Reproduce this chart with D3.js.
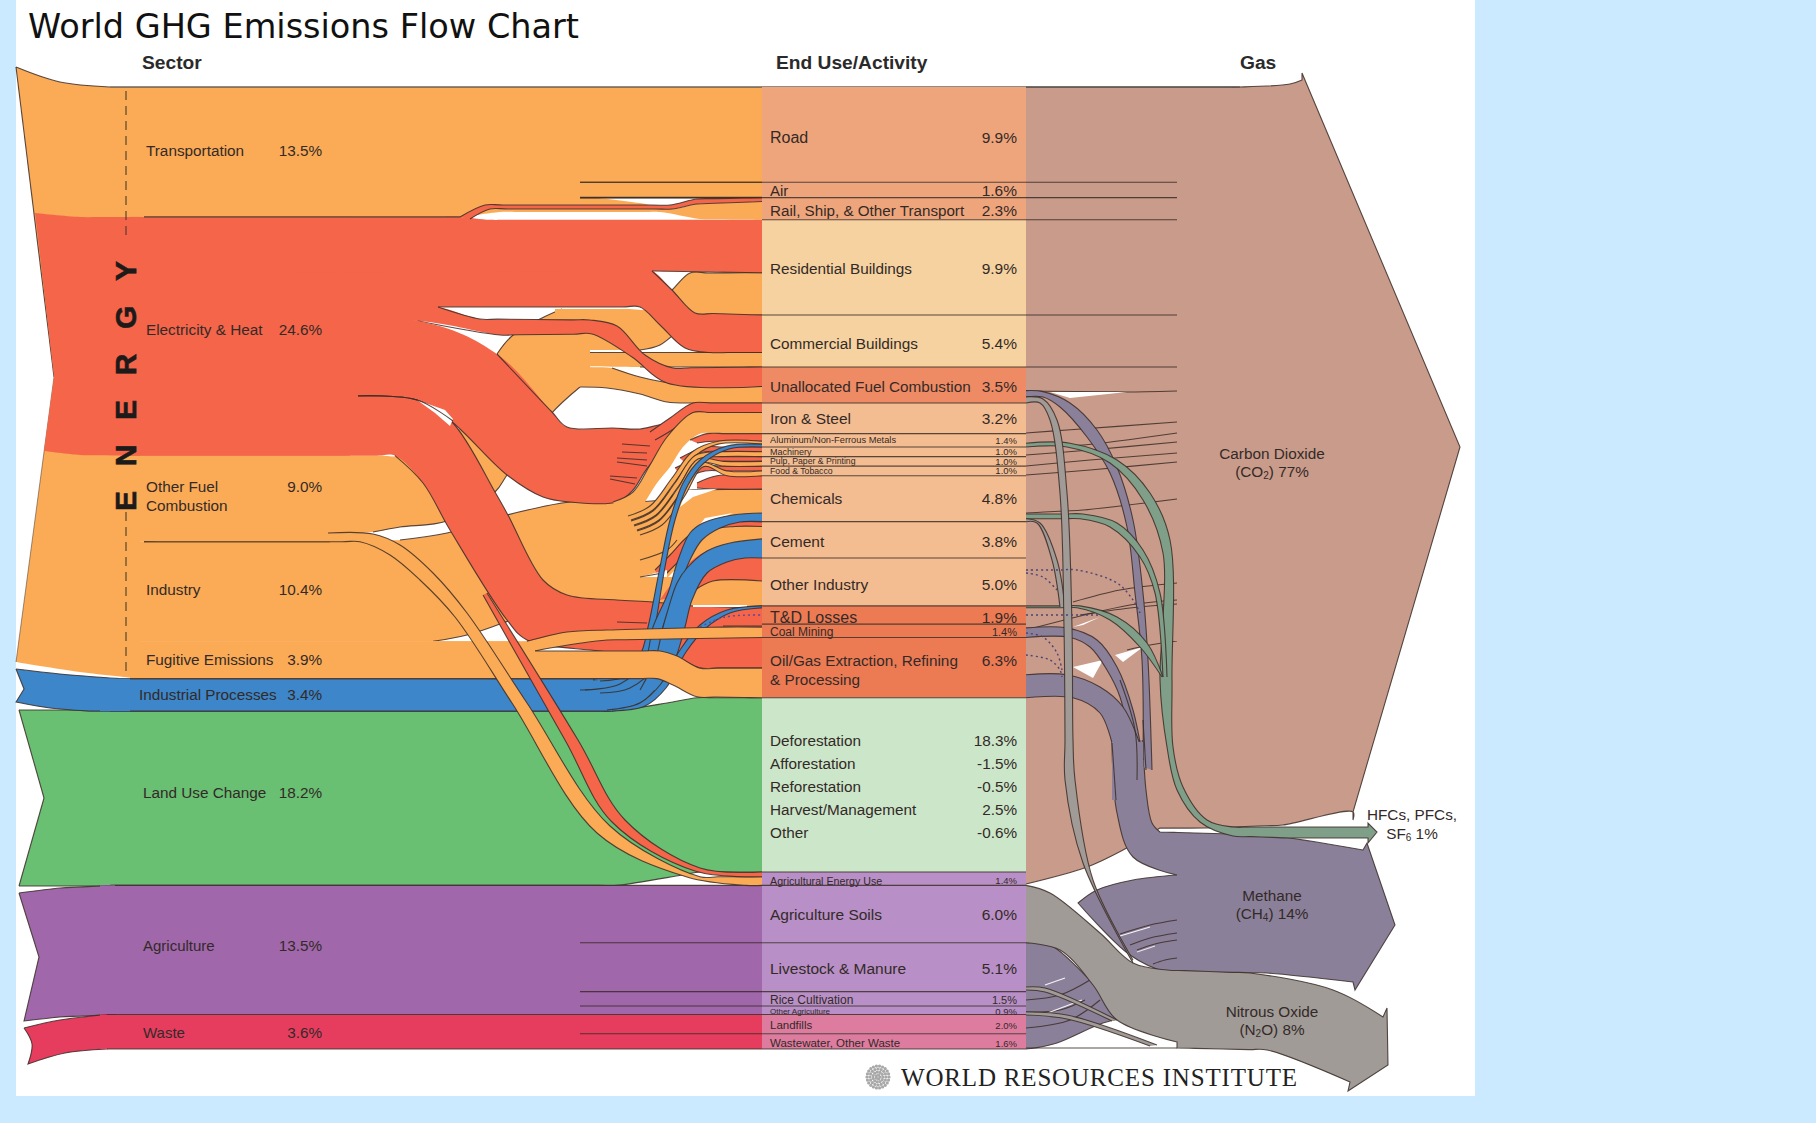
<!DOCTYPE html>
<html><head><meta charset="utf-8">
<style>html,body{margin:0;padding:0;background:#cbeaff}svg{display:block}text{font-family:"Liberation Sans",Arial,sans-serif}</style>
<script src="https://cdn.jsdelivr.net/npm/d3@7/dist/d3.min.js"></script></head><body>
<script>
// ---------- DATA (percent of world GHG emissions) ----------
const sectors = ["Transportation","Electricity & Heat","Other Fuel Combustion","Industry","Fugitive Emissions","Industrial Processes","Land Use Change","Agriculture","Waste"];
const sectorValues = [13.5,24.6,9.0,10.4,3.9,3.4,18.2,13.5,3.6];
const sectorLabels = ["13.5%","24.6%","9.0%","10.4%","3.9%","3.4%","18.2%","13.5%","3.6%"];
const endUses = ["Road","Air","Rail, Ship, & Other Transport","Residential Buildings","Commercial Buildings","Unallocated Fuel Combustion","Iron & Steel","Aluminum/Non-Ferrous Metals","Machinery","Pulp, Paper & Printing","Food & Tobacco","Chemicals","Cement","Other Industry","T&D Losses","Coal Mining","Oil/Gas Extraction, Refining","Land Use Change","Agricultural Energy Use","Agriculture Soils","Livestock & Manure","Rice Cultivation","Other Agriculture","Landfills","Wastewater, Other Waste"];
const endUseValues = [9.9,1.6,2.3,9.9,5.4,3.5,3.2,1.4,1.0,1.0,1.0,4.8,3.8,5.0,1.9,1.4,6.3,18.2,1.4,6.0,5.1,1.5,0.9,2.0,1.6];
const endUseLabels = ["9.9%","1.6%","2.3%","9.9%","5.4%","3.5%","3.2%","1.4%","1.0%","1.0%","1.0%","4.8%","3.8%","5.0%","1.9%","1.4%","6.3%","","1.4%","6.0%","5.1%","1.5%","0.9%","2.0%","1.6%"];
const landUseItems = ["Deforestation","Afforestation","Reforestation","Harvest/Management","Other"];
const landUseLabels = ["18.3%","-1.5%","-0.5%","2.5%","-0.6%"];
// flow: key, sector index, end-use index, value (listed top-to-bottom inside each end use)
const flowKeys = ["road","air","railE","railT","resE","resO","comE","comO","unE","unO","ironE","ironI","alE","alI","alB","maE","maI","puE","puI","foE","foI","chE","chI","chB","ceE","ceI","ceB","otE","otI","tdB","tdE","coal","oiE","oiO","oiF","luc","agE","agO","soil","live","rice","oag","land","wast"];
const flowSector = [0,0,1,0,1,2,1,2,1,2,1,3,1,3,5,1,3,1,3,1,3,1,3,5,1,3,5,1,3,5,1,4,1,2,4,6,1,2,7,7,7,7,8,8];
const flowEnd =    [0,1,2,2,3,3,4,4,5,5,6,6,7,7,7,8,8,9,9,10,10,11,11,11,12,12,12,13,13,14,14,15,16,16,16,17,18,18,19,20,21,22,23,24];
const flowValues = [9.9,1.6,0.4,1.9,5.5,4.4,3.9,1.5,1.9,1.6,1.0,2.2,0.8,0.3,0.3,0.5,0.5,0.5,0.5,0.5,0.5,1.4,2.5,0.9,0.5,1.3,2.0,2.4,2.6,0.2,1.7,1.4,3.2,0.6,2.5,18.2,0.5,0.9,6.0,5.1,1.5,0.9,2.0,1.6];
const gases = ["Carbon Dioxide","Methane","Nitrous Oxide","HFCs, PFCs, SF6"];
const gasValues = [77,14,8,1];
// non-CO2 gas flows out of the end-use column
const gasKeys = ["unCH4","unN2O","alHFC","chHFC","chN2O","tdHFC","coCH4","oiCH4","soN2O"];
const gasEnd = [5,5,7,11,11,14,15,16,19];
const gasFlowValues = [0.6,0.6,0.4,0.5,0.3,0.2,1.0,2.4,6.0];
const gasFromTop = [0,0,0,0,0,1,0,0,0];

// ---------- SCALES & COLOURS ----------
const W=1816,H=1123,XL=130,XP0=762,XP1=1026;
const sy=d3.scaleLinear().domain([0,29.1,32.6,100.1]).range([87,367,403,1049]);
const C={o:"#fbab56",r:"#f5654a",b:"#3c86c9",g:"#69bf72",p:"#a067aa",w:"#e63d5f",co2:"#c99b8a",ch4:"#8b8099",n2o:"#a19b97",hfc:"#7f9f89",ink:"#3b2d28"};
const panelFill=i=>i<3?"#efa57b":i<5?"#f5d2a0":i==5?"#ee8b64":i<14?"#f3bd91":i<17?"#ec7b54":i==17?"#cce6c9":i<23?"#b88fc6":"#dd7c9f";

// stacks
const endTop=[],secTop=[];let c=0;endUseValues.forEach((v,i)=>{endTop[i]=c;c+=v});c=0;sectorValues.forEach((v,i)=>{secTop[i]=c;c+=v});
const endOff=endUses.map(()=>0),secOff=sectors.map(()=>0),F={};
flowKeys.forEach((k,i)=>{const e=flowEnd[i],s=flowSector[i],v=flowValues[i];
  F[k]={r0:sy(endTop[e]+endOff[e]),r1:sy(endTop[e]+endOff[e]+v),l0:sy(secTop[s]+secOff[s]),l1:sy(secTop[s]+secOff[s]+v)};
  endOff[e]+=v;secOff[s]+=v;});
const G={};const gasBelow=endUses.map(()=>0);
gasKeys.forEach((k,i)=>{const e=gasEnd[i];
  G[k]=gasFromTop[i]?{t:sy(endTop[e]),b:sy(endTop[e]+gasFlowValues[i])}:null;});
[...gasKeys.keys()].reverse().forEach(i=>{if(gasFromTop[i])return;const e=gasEnd[i],bot=endTop[e]+endUseValues[e]-gasBelow[e];
  G[gasKeys[i]]={t:sy(bot-gasFlowValues[i]),b:sy(bot)};gasBelow[e]+=gasFlowValues[i];});
const eT=i=>sy(endTop[i]),eB=i=>sy(endTop[i]+endUseValues[i]);
const sT=i=>sy(secTop[i]),sB=i=>sy(secTop[i]+sectorValues[i]);
const rt=k=>[XP0,F[k].r0],rb=k=>[XP0,F[k].r1],lt=k=>[XL,F[k].l0],lb=k=>[XL,F[k].l1];

// ---------- DRAW HELPERS ----------
const svg=d3.select("body").append("svg").attr("width",W).attr("height",H);
svg.append("rect").attr("width",W).attr("height",H).attr("fill","#cbeaff");
svg.append("rect").attr("x",16).attr("y",0).attr("width",1459).attr("height",1096).attr("fill","#fff");
const g=svg.append("g");
const rawLine=d3.line().curve(d3.curveCatmullRom.alpha(0.5));
// keep long flat runs flat: add guide points near their ends so the spline does not overshoot
function dens(p){const o=[];p.forEach((q,i)=>{o.push(q);const n=p[i+1];if(n&&Math.abs(n[1]-q[1])<=3&&Math.abs(n[0]-q[0])>50){const s=Math.sign(n[0]-q[0])*18,k=18/Math.abs(n[0]-q[0]);o.push([q[0]+s,q[1]+(n[1]-q[1])*k]);o.push([n[0]-s,n[1]-(n[1]-q[1])*k]);}});return o;}
const line=p=>p.length>2?rawLine(dens(p)):"M"+p.join("L");
const EDGE={stroke:C.ink,w:1.1,op:.85};
function strokeLine(pts,w,dash,col,op){const p=g.append("path").attr("d",line(pts)).attr("fill","none").attr("stroke",col||EDGE.stroke).attr("stroke-width",w||EDGE.w).attr("stroke-opacity",op||EDGE.op);if(dash)p.attr("stroke-dasharray",dash);return p;}
// ribbon: fill between two edges, outline each edge from a chosen x onward (1e9 = no outline)
function ribbon(fill,top,bot,st=-1,sb=-1){
  g.append("path").attr("d",line(top)+"L"+line(bot.slice().reverse()).slice(1)+"Z").attr("fill",fill);
  const a=top.filter(p=>p[0]>=st),b=bot.filter(p=>p[0]>=sb);
  if(a.length>1)strokeLine(a);if(b.length>1)strokeLine(b);
}
function shape(fill,segs,stroke=true){
  const d=segs.map((s,i)=>{const l=line(s);return i?"L"+l.slice(1):l}).join("");
  g.append("path").attr("d",d+"Z").attr("fill",fill);
  if(stroke)g.append("path").attr("d",d).attr("fill","none").attr("stroke",EDGE.stroke).attr("stroke-width",EDGE.w).attr("stroke-opacity",EDGE.op);
}
const gap=pts=>g.append("path").attr("d","M"+pts.join("L")+"Z").attr("fill","#fff");
const rect=(x,y,x1,y1,f)=>g.append("rect").attr("x",x).attr("y",y).attr("width",x1-x).attr("height",y1-y).attr("fill",f);

// ---------- CO2 BODY ----------
shape(C.co2,[[[XP1,87],[1240,87],[1290,84],[1302,80]],[[1302,80],[1302,73]],[[1302,73],[1460,447]],[[1460,447],[1353,812]],[[1353,812],[1353,820]],[[1353,820],[1353,812],[1283,825],[1207,828],[1160,828]],[[1160,828],[1123,850],[1087,867],[XP1,884]]]);

// ---------- LOWER SECTORS ----------
// Land use change
ribbon(C.g,[[100,sT(6)],[610,sT(6)],[667,703],[697,eT(17)],rt("luc")],[[100,sB(6)],[617,sB(6)],[682,875],[700,eB(17)],rb("luc")]);
shape(C.g,[[[19,710],[110,710]],[[110,710],[110,886]],[[110,886],[19,886]],[[19,886],[44,798]],[[44,798],[19,710]]],false);
strokeLine([[19,886],[44,798]]);strokeLine([[44,798],[19,710]]);strokeLine([[19,710],[110,710]]);strokeLine([[19,886],[110,886]]);
// Agriculture
shape(C.p,[[[19,893],[60,888],[115,sT(7)]],[[115,sT(7)],[115,sB(7)]],[[115,sB(7)],[60,1017],[24,1021]],[[24,1021],[39,957]],[[39,957],[19,893]]],true);
rect(100,sT(7),XP0,sB(7),C.p);
strokeLine([[115,sT(7)],[XP0,sT(7)]]);
// Waste
shape(C.w,[[[24,1028],[60,1020],[107,sT(8)]],[[107,sT(8)],[107,sB(8)]],[[107,sB(8)],[65,1053],[28,1064]],[[28,1064],[32,1044],[24,1028]]],true);
rect(100,sT(8),XP0,sB(8),C.w);
strokeLine([[107,sT(8)],[XP0,sT(8)]]);strokeLine([[107,sB(8)],[XP0,sB(8)]]);

// ---------- INDUSTRIAL PROCESSES BAND ----------
shape(C.b,[[[16,669],[60,674],[120,sT(5)]],[[120,sT(5)],[663,sT(5)]],[[663,sT(5)],[655,690],[640,703],[610,sB(5)]],[[610,sB(5)],[90,sB(5)]],[[90,sB(5)],[50,708],[16,702]],[[16,702],[24,689]],[[24,689],[16,669]]]);
rect(100,sT(5),130,sB(5),C.b);
strokeLine([[580,690],[615,687],[645,672]]);strokeLine([[593,680],[625,677]]);

// ---------- ENERGY TAIL & TRANSPORT ----------
shape(C.o,[[[16,67],[60,82],[110,87]],[[110,87],[140,87]],[[140,87],[140,sT(5)]],[[140,sT(5)],[80,672],[16,662]],[[16,662],[54,377]],[[54,377],[16,67]]],false);
strokeLine([[16,67],[60,82],[110,87]]);strokeLine([[16,67],[54,377]]);strokeLine([[54,377],[16,662]],1,null,C.ink,.5);
rect(XL,87,470,sB(0),C.o);rect(XL,87,XP0,eB(1),C.o);
ribbon(C.o,[[465,eB(1)-1],[582,eB(1)-1],[640,203],[672,209],[697,204],rt("railT")],[[465,sB(0)],[500,212],[660,212],[700,219],rb("railT")],1e9,1e9);
strokeLine([[580,eT(1)],[XP0,eT(1)]]);strokeLine([[580,eB(1)],[XP0,eB(1)]],1.6);
strokeLine([[110,87],[1240,87]],1.3,null,"#5b5550",.9);

// ---------- OTHER FUEL BUNDLE (passes behind electricity) ----------
rect(XL,sT(2),345,sB(2),C.o);
ribbon(C.o,[[XL,sT(2)],[400,sT(2)],[470,420],[497,354],[512,336],[542,318],[562,309]],[[XL,533],[330,533],[373,532],[400,527],[447,521],[495,492],[507,475],[550,415],[580,387]],497,373);
rect(548,330,590,372,C.o);
ribbon(C.o,[[555,309],[647,309],[670,292],[690,273],rt("resO")],[[555,350],[640,350],[660,345],[685,325],[700,316],rb("resO")],647,640);
ribbon(C.o,[[560,350],[590,rt("comO")[1]],rt("comO")],[[560,366],[640,rb("comO")[1]],rb("comO")],590,640);
ribbon(C.o,[[560,366],[612,368],[640,377],[677,384],rt("unO")],[[580,387],[607,388],[640,394],[667,402],[697,rb("unO")[1]],rb("unO")],612,-1);

// ---------- INDUSTRY BODY ----------
ribbon(C.o,[[XL,sT(3)],[400,540],[447,533],[507,515],[570,502],[620,502],[660,500],[690,490],[XP0,F.chI.r0]],[[XL,sB(3)],[433,sB(3)],[467,635],[503,623],[540,610],[700,610],[XP0,F.otI.r1]],400,144);

// ---------- FUGITIVE (underlying parts of body) ----------
rect(XL,sT(4),530,sB(4),C.o);

// ---------- ELECTRICITY RIBBONS ----------
shape(C.r,[[[35,213],[80,217],[XL+2,sT(1)]],[[XL+2,sT(1)],[XL+2,sB(1)]],[[XL+2,sB(1)],[80,455],[44,451]],[[44,451],[54,377]],[[54,377],[35,213]]],false);
rect(XL,sT(1),350,sB(1),C.r);
ribbon(C.r,[[XL,sT(1)],[460,sT(1)],[490,F.resE.r0],rt("resE")],[[XL,F.resE.l1],[652,271],rb("resE")],1e9,652);
rect(XL,262,640,280,C.r);
ribbon(C.r,[[XL,F.comE.l0],[652,271],[672,290],[695,313],rt("comE")],[[XL,307],[438,307],[640,307],[660,325],[685,348],[710,rb("comE")[1]],rb("comE")],652,438);
ribbon(C.r,[[XL,307],[438,307],[480,319],[590,320],[617,326],[645,355],[673,368],rt("unE")],[[XL,325],[418,321],[500,335],[592,334],[632,357],[667,383],rb("unE")],438,418);
// bundle toward the industrial end uses
ribbon(C.r,[[XL,325],[418,321],[497,354],[552,412],[567,427],[613,428],[640,429],[670,424],[690,435]],[[XL,396],[358,396],[417,400],[452,422],[507,475],[543,497],[570,502],[617,502],[633,490],[650,465],[690,435]],497,358);
// bundle toward T&D and oil/gas
ribbon(C.r,[[XL,396],[358,396],[417,400],[452,422],[495,492],[508,515],[543,580],[567,595],[617,600],[653,602],[693,606],rt("tdE")],[[XL,sB(1)],[395,sB(1)],[423,483],[450,530],[507,620],[527,640],[600,651],[680,660],[700,F.oiE.r1],rb("oiE")],358,144);
gap([[417,400],[445,410],[453,419],[450,426],[435,413]]);
strokeLine([[358,396],[417,400],[453,421]]);
ribbon(C.r,[[650,432],[670,418],[693,403],rt("ironE")],[[655,440],[675,428],[693,413],rb("ironE")]);
strokeLine([[144,sT(1)],[460,sT(1)]]);strokeLine([[144,sT(3)],[330,sT(3)]]);
// thin electricity ribbon to rail
ribbon(C.r,[[460,217],[485,205],[670,205],[697,199],rt("railE")],[[470,219],[490,209],[672,209],[697,204],rb("railE")]);

// fingers behind the Iron ribbon
[[[622,444],[650,446]],[[622,452],[647,453]],[[617,458],[647,460]],[[617,462],[647,466]],[[610,476],[637,478]],[[610,479],[635,484]]].forEach(p=>strokeLine(p));

// ---------- IRON ORANGE OVER RED ----------
ribbon(C.o,[[613,502],[633,492],[650,465],[667,437],[693,rt("ironI")[1]],rt("ironI")],[[625,530],[640,510],[657,483],[670,467],[683,447],[700,rb("ironI")[1]],rb("ironI")],-1,1e9);

// fine red ribbons
ribbon(C.r,[[690,440],[707,F.alE.r0],rt("alE")],[[697,443],[713,F.alE.r1],rb("alE")]);
ribbon(C.r,[[680,458],[705,F.maE.r0],rt("maE")],[[684,462],[705,F.maE.r1],rb("maE")]);
ribbon(C.r,[[675,468],[705,F.puE.r0],rt("puE")],[[678,472],[705,F.puE.r1],rb("puE")]);
ribbon(C.r,[[672,478],[705,F.foE.r0],rt("foE")],[[676,482],[705,F.foE.r1],rb("foE")]);
ribbon(C.r,[[697,483],[717,F.chE.r0],rt("chE")],[[697,488],[720,F.chE.r1],rb("chE")]);
ribbon(C.r,[[655,570],[670,555],[687,537],[705,525],[735,F.ceE.r0],rt("ceE")],[[660,580],[675,565],[695,545],[712,530],[735,F.ceE.r1],rb("ceE")]);
ribbon(C.r,[[660,600],[685,567],[705,552],[720,550],rt("otE")],[[680,595],[695,590],[713,rb("otE")[1]],rb("otE")],1e9,695);

// white gaps between the fine ribbons
gap([[680,507],[687,490],[717,489],[693,497]]);
gap([[690,537],[705,518],[733,513],[710,523]]);
gap([[707,551],[730,543],[740,541],[713,550]]);
gap([[640,577],[667,570],[667,577]]);
gap([[680,565],[692,577],[668,577]]);
gap([[693,605],[747,605],[747,607],[693,607]]);
strokeLine([[640,560],[667,550],[677,540]]);strokeLine([[640,577],[663,573]]);

// ---------- THIN ORANGE RIBBONS (Al, Machinery, Pulp, Food) ----------
["alI","maI","puI","foI"].forEach((k,i)=>{
  const dx=i*3,dy=i*5;
  const T=[[628+dx,516+dy],[650+dx,506+dy],[672+dx,478+dy],[692+dx,452+dy*.7],[718+dx,F[k].r0],rt(k)];
  const B=T.map((p,j)=>[p[0]+(j<4?3:0),p[1]+(j<4?4:0)]);B[B.length-1]=rb(k);B[B.length-2]=[718+dx,F[k].r1];
  ribbon(C.o,T,B);
});

// ---------- BLUE RIBBONS ----------
ribbon(C.b,[[593,679],[620,674],[640,655],[648,627],[660,567],[670,520],[683,483],[700,460],[727,446],rt("alB")],[[600,681],[628,676],[648,657],[655,627],[665,567],[675,520],[688,485],[704,463],[729,449],rb("alB")]);
ribbon(C.b,[[585,690],[620,684],[645,660],[653,627],[668,593],[678,560],[690,533],[703,523],[733,515],rt("chB")],[[600,693],[630,688],[655,665],[663,627],[677,593],[690,560],[702,540],[720,528],[740,522],rb("chB")]);
ribbon(C.b,[[640,690],[655,660],[663,627],[667,613],[677,583],[687,568],[707,551],[730,543],rt("ceB")],[[660,690],[675,660],[685,627],[692,600],[707,573],[727,562],[745,558],rb("ceB")]);
ribbon(C.b,[[607,710],[640,703],[660,685],[680,650],[700,625],[727,610],rt("tdB")],[[612,711],[645,706],[666,688],[686,652],[706,628],[730,613],rb("tdB")]);
strokeLine([[700,627],[725,617],[762,615]],1.4,"2,3","#5a4aa0",1);
strokeLine([[617,622],[647,623]]);strokeLine([[723,626],[XP0,626]]);

// ---------- COAL & FUGITIVE ON TOP ----------
ribbon(C.o,[[XL,sT(4)],[527,sT(4)],[567,632],[607,630],[XP0-40,F.coal.r0+3],[XP0,F.coal.r0+3]],[[XL,F.coal.l1],[535,651],[550,648],[607,640],[XP0,F.coal.r1]],144,535);
ribbon(C.o,[[675,658],[700,F.oiO.r0],rt("oiO")],[[685,682],[700,F.oiO.r1],rb("oiO")],1e9,1e9);
ribbon(C.o,[[XL,F.coal.l1],[535,651],[660,651],[677,656],[700,F.oiO.r0],rt("oiO")],[[XL,sB(4)],[657,sB(4)],[673,685],[697,eB(16)-1],[XP0,eB(16)]],535,120);

// ---------- AG ENERGY THIN RIBBONS ----------
ribbon(C.o,[[328,533],[373,534],[400,545],[433,573],[467,613],[527,703],[610,826],[700,F.agO.r0],rt("agO")],[[144,sT(3)],[360,sT(3)],[390,555],[420,580],[455,617],[512,703],[597,833],[687,877],[746,F.agO.r1],rb("agO")]);
ribbon(C.r,[[487,593],[578,740],[625,820],[700,868],rt("agE")],[[483,595],[565,740],[612,822],[695,871],rb("agE")]);

// ---------- END-USE PANELS ----------
endUses.forEach((n,i)=>rect(XP0,eT(i),XP1,eB(i),panelFill(i)));
// dividers, some run past the panel
const dividers=[[580,1177,eT(1)],[580,1177,eB(1)],[XP0,1177,eB(2)],[XP0,1177,eB(3)],[XP0,1177,eB(4)],[XP0,XP1,eB(5)],[XP0,XP1,eB(6)],[XP0,XP1,eB(7)],[XP0,XP1,eB(8)],[XP0,XP1,eB(9)],[XP0,XP1,eB(10)],[XP0,XP1,eB(11)],[XP0,XP1,eB(12)],[XP0,XP1,eB(13)],[XP0,XP1,eB(14)],[XP0,XP1,eB(15)],[XP0,XP1,eB(16)],[XP0,XP1,eB(17)],[XP0,XP1,eB(18)],[580,XP1,eB(19)],[580,XP1,eB(20)],[580,XP1,eB(21)],[XP0,XP1,eB(22)],[580,XP1,eB(23)],[XP0,XP1,eB(24)]];
dividers.forEach(d=>strokeLine([[d[0],d[2]],[d[1],d[2]]]));

// ---------- CO2 STREAM LINES ----------
[[[1026,391],[1127,392],[1177,391]],[[1026,433],[1067,430],[1177,422]],[[1026,446],[1083,445],[1177,433]],[[1026,455],[1090,450],[1177,442]],[[1026,466],[1090,460],[1177,453]],[[1026,475],[1090,470],[1177,462]],[[1026,513],[1083,510],[1177,499]],[[1073,602],[1120,590],[1177,583]],[[1026,630],[1130,605],[1177,600]],[[1080,615],[1130,608],[1177,604]],[[1127,650],[1150,645],[1177,641]]].forEach(p=>strokeLine(p));
gap([[1050,392],[1127,392],[1070,398]]);
gap([[1073,667],[1103,660],[1093,678]]);
gap([[1115,655],[1143,647],[1123,662]]);
gap([[1073,627],[1100,617],[1083,625]]);

// ---------- GAS FLOWS ----------
// methane body
shape(C.ch4,[[[1143,740],[1146,790],[1152,823],[1160,832]],[[1160,832],[1267,835],[1363,850]],[[1363,850],[1367,843]],[[1367,843],[1395,925]],[[1395,925],[1355,990]],[[1355,990],[1353,982]],[[1353,982],[1267,973],[1167,972],[1130,955],[1078,903]],[[1078,903],[1097,890],[1133,880],[1177,875]],[[1177,875],[1133,857],[1117,813],[1112,743]]]);
// methane from unallocated
ribbon(C.ch4,[[XP1,G.unCH4.t],[1043,G.unCH4.t+1],[1070,403],[1097,430],[1117,467],[1133,520],[1143,593],[1148,660],[1152,770]],[[XP1,G.unCH4.b],[1043,397],[1060,407],[1087,437],[1110,473],[1127,527],[1135,593],[1142,660],[1143,767]]);
// methane from coal
ribbon(C.ch4,[[XP1,G.coCH4.t],[1067,G.coCH4.t],[1097,640],[1117,667],[1133,710],[1143,760]],[[XP1,G.coCH4.b],[1070,G.coCH4.b],[1090,647],[1107,670],[1120,697],[1133,760]]);
// methane from oil/gas
ribbon(C.ch4,[[XP1,G.oiCH4.t],[1067,G.oiCH4.t],[1100,687],[1123,707],[1142,750]],[[XP1,G.oiCH4.b],[1073,G.oiCH4.b],[1100,713],[1112,743]]);
rect(1112,742,1143,800,C.ch4);
strokeLine([[1112,743],[1116,800]]);
// strokes inside the methane stem
strokeLine([[1120,680],[1135,730],[1137,780]]);strokeLine([[1143,720],[1146,770]]);
// HFC arrow
shape(C.hfc,[[[XP1,G.alHFC.t],[1070,G.alHFC.t],[1117,460],[1150,493],[1170,540],[1172,680],[1173,747],[1183,787],[1207,820],[1233,827],[1368,827]],[[1368,827],[1368,823]],[[1368,823],[1377,832]],[[1377,832],[1368,843]],[[1368,843],[1368,838]],[[1368,838],[1290,838],[1233,836],[1200,822],[1177,790],[1167,747],[1160,680],[1163,620],[1163,553],[1143,500],[1110,463],[1067,G.alHFC.b],[XP1,G.alHFC.b]]]);
ribbon(C.hfc,[[XP1,G.chHFC.t],[1083,G.chHFC.t],[1117,523],[1143,550],[1160,593],[1167,677]],[[XP1,G.chHFC.b],[1080,G.chHFC.b],[1110,527],[1140,557],[1155,593],[1163,677]]);
ribbon(C.hfc,[[XP1,G.tdHFC.t],[1080,G.tdHFC.t],[1117,617],[1147,643],[1163,677]],[[XP1,G.tdHFC.b],[1077,G.tdHFC.b],[1110,620],[1140,647],[1162,677]]);
// agriculture & waste methane
shape(C.ch4,[[[XP1,eT(20)],[1050,945],[1085,975],[1125,1018]],[[1125,1018],[1103,1023],[1057,1043],[1035,1048],[XP1,eB(24)]]]);
[[[1026,1000],[1060,995],[1090,980]],[[1026,1012],[1060,1010],[1085,1000]],[[1026,1028],[1070,1020],[1100,1000]]].forEach(p=>strokeLine(p));
[[[1045,985],[1065,978]],[[1045,1014],[1082,1000]]].forEach(p=>strokeLine(p,1.3,null,"#fff",.9));
// N2O body
shape(C.n2o,[[[XP1,G.soN2O.t],[1050,893],[1100,933],[1133,963],[1167,970],[1250,973],[1333,990],[1383,1017]],[[1383,1017],[1387,1008]],[[1387,1008],[1388,1065]],[[1388,1065],[1348,1091]],[[1348,1091],[1350,1082]],[[1350,1082],[1267,1050],[1177,1048]],[[1177,1048],[1177,1042]],[[1177,1042],[1117,1020],[1093,985],[1060,950],[XP1,G.soN2O.b]]]);
// methane-stream lines inside the methane body
[[[1120,934],[1150,925],[1177,920]],[[1130,945],[1150,938],[1177,933]],[[1137,950],[1155,944],[1177,940]],[[1153,964],[1165,960],[1177,958]]].forEach(p=>strokeLine(p));
strokeLine([[1120,936],[1150,927]],1.3,null,"#fff",.9);strokeLine([[1137,952],[1155,946]],1.1,null,"#fff",.8);
// thin N2O strands from the soils/waste band
ribbon(C.n2o,[[XP1,987],[1045,988],[1117,1020]],[[XP1,990],[1045,992],[1112,1021]]);
ribbon(C.n2o,[[XP1,1012],[1067,1015],[1157,1045]],[[XP1,1015],[1067,1019],[1150,1046]]);
strokeLine([[XP1,sy(100.1)-1],[1177,1048]]);
// N2O strands (grey) from unallocated and chemicals
ribbon(C.n2o,[[XP1,G.chN2O.t],[1040,523],[1057,560],[1065,607]],[[XP1,G.chN2O.b],[1037,523],[1052,560],[1060,607]]);
ribbon(C.n2o,[[XP1,G.unN2O.t],[1043,399],[1057,420],[1067,493],[1072,627],[1073,740],[1075,780],[1093,880],[1133,960]],[[XP1,G.unN2O.b],[1040,403],[1050,420],[1060,493],[1064,627],[1065,740],[1065,780],[1083,863],[1133,963]]);
// dotted streams
[[[1026,570],[1077,570],[1117,583],[1133,600],[1140,613]],[[1026,573],[1043,577],[1057,590]],[[1026,615],[1100,615]],[[1026,633],[1043,637],[1057,653],[1062,670]],[[1026,655],[1050,660],[1060,670],[1062,677]]].forEach(p=>strokeLine(p,1.4,"2,3","#4d4470",1));

// ---------- ENERGY BRACKET ----------
strokeLine([[126,91],[126,240]],1.2,"9,6","#4a3a2a",.9);strokeLine([[126,512],[126,676]],1.2,"9,6","#4a3a2a",.9);

// ---------- TEXT ----------
const INK="#332a28";
function txt(x,y,s,o={}){return g.append("text").attr("x",x).attr("y",y).attr("dominant-baseline","central").attr("text-anchor",o.a||"start").attr("font-size",o.fs||15.3).attr("font-weight",o.w||400).attr("fill",o.c||INK).text(s);}
const secY=[150,329,486,589,659,694,792,945,1032],secX=[146,146,146,146,146,139,143,143,143];
sectors.forEach((n,i)=>{
  if(i==2){txt(146,486,"Other Fuel");txt(146,505,"Combustion");}
  else txt(secX[i],secY[i],n,{fs:i==7||i==8?15:15.3});
  txt(322,secY[i],sectorLabels[i],{a:"end"});
});
const fsEnd=[16,15,15.2,15.3,15.3,15.3,15.5,9.3,9,8.7,8.7,15.5,15.5,15.5,16,12,15.3,0,10.7,15.5,15.5,12,8,11.5,11.5];
const fsPct=fsEnd.map(f=>f<12?9.5:f==12?11:15.5);
const dyEnd=[2.5,2,2,1,2,1.5,0,0,0,0,0,0,1.5,3,3,1.5,0,0,2,0,1,1,1,1,2];
endUses.forEach((n,i)=>{ if(i==17)return;
  const m=(eT(i)+eB(i))/2; const y=i==16?660:m+dyEnd[i]+(i==1?-1:0);
  txt(770,y,n,{fs:fsEnd[i]});
  txt(1017,y,endUseLabels[i],{a:"end",fs:fsPct[i]});
});
txt(770,679,"& Processing",{fs:15.3});
landUseItems.forEach((n,i)=>{txt(770,740+i*23.2,n);txt(1017,740+i*23.2,landUseLabels[i],{a:"end"});});
txt(1272,453,gases[0],{a:"middle"});txt(1272,895,gases[1],{a:"middle"});txt(1272,1011,gases[2],{a:"middle"});
function formula(x,y,pre,sub,post){const t=g.append("text").attr("x",x).attr("y",y).attr("dominant-baseline","central").attr("text-anchor","middle").attr("font-size",15.3).attr("fill",INK);
  t.append("tspan").text(pre);t.append("tspan").text(sub).attr("font-size",10).attr("dy",4);t.append("tspan").text(post).attr("dy",-4);}
formula(1272,471,"(CO","2",")  "+gasValues[0]+"%");
formula(1272,913,"(CH","4",")  "+gasValues[1]+"%");
formula(1272,1029,"(N","2","O)  "+gasValues[2]+"%");
txt(1412,814,"HFCs, PFCs,",{a:"middle"});
formula(1412,833,"SF","6","  "+gasValues[3]+"%");
// headers
txt(142,62,"Sector",{w:700,fs:19.2,c:"#2a2a2a"});
txt(776,62,"End Use/Activity",{w:700,fs:19.2,c:"#2a2a2a"});
txt(1240,62,"Gas",{w:700,fs:19.2,c:"#2a2a2a"});
// title
g.append("text").attr("x",28).attr("y",38).style("font-family","'DejaVu Sans'").attr("font-size",33).attr("fill","#111").attr("textLength",551).attr("lengthAdjust","spacingAndGlyphs").text("World GHG Emissions Flow Chart");
// ENERGY
g.append("text").attr("transform","translate(136,386) rotate(-90)").attr("text-anchor","middle").attr("font-size",30).attr("font-weight",700).attr("fill","#1d1a1a").attr("stroke","#1d1a1a").attr("stroke-width",.6).attr("textLength",250).attr("lengthAdjust","spacing").text("ENERGY");
// WRI mark
const logo=g.append("g").attr("transform","translate(878,1077)");
[[11,22],[8,16],[5,11],[2,5]].forEach(r=>d3.range(r[1]).forEach(i=>{const a=i/r[1]*2*Math.PI;logo.append("circle").attr("cx",r[0]*Math.cos(a)).attr("cy",r[0]*Math.sin(a)).attr("r",1.6).attr("fill","#a8a8a8");}));
g.append("text").attr("x",901).attr("y",1086).style("font-family","'Liberation Serif'").attr("font-size",25).attr("fill","#222").attr("textLength",396).attr("lengthAdjust","spacing").text("WORLD RESOURCES INSTITUTE");
</script></body></html>
